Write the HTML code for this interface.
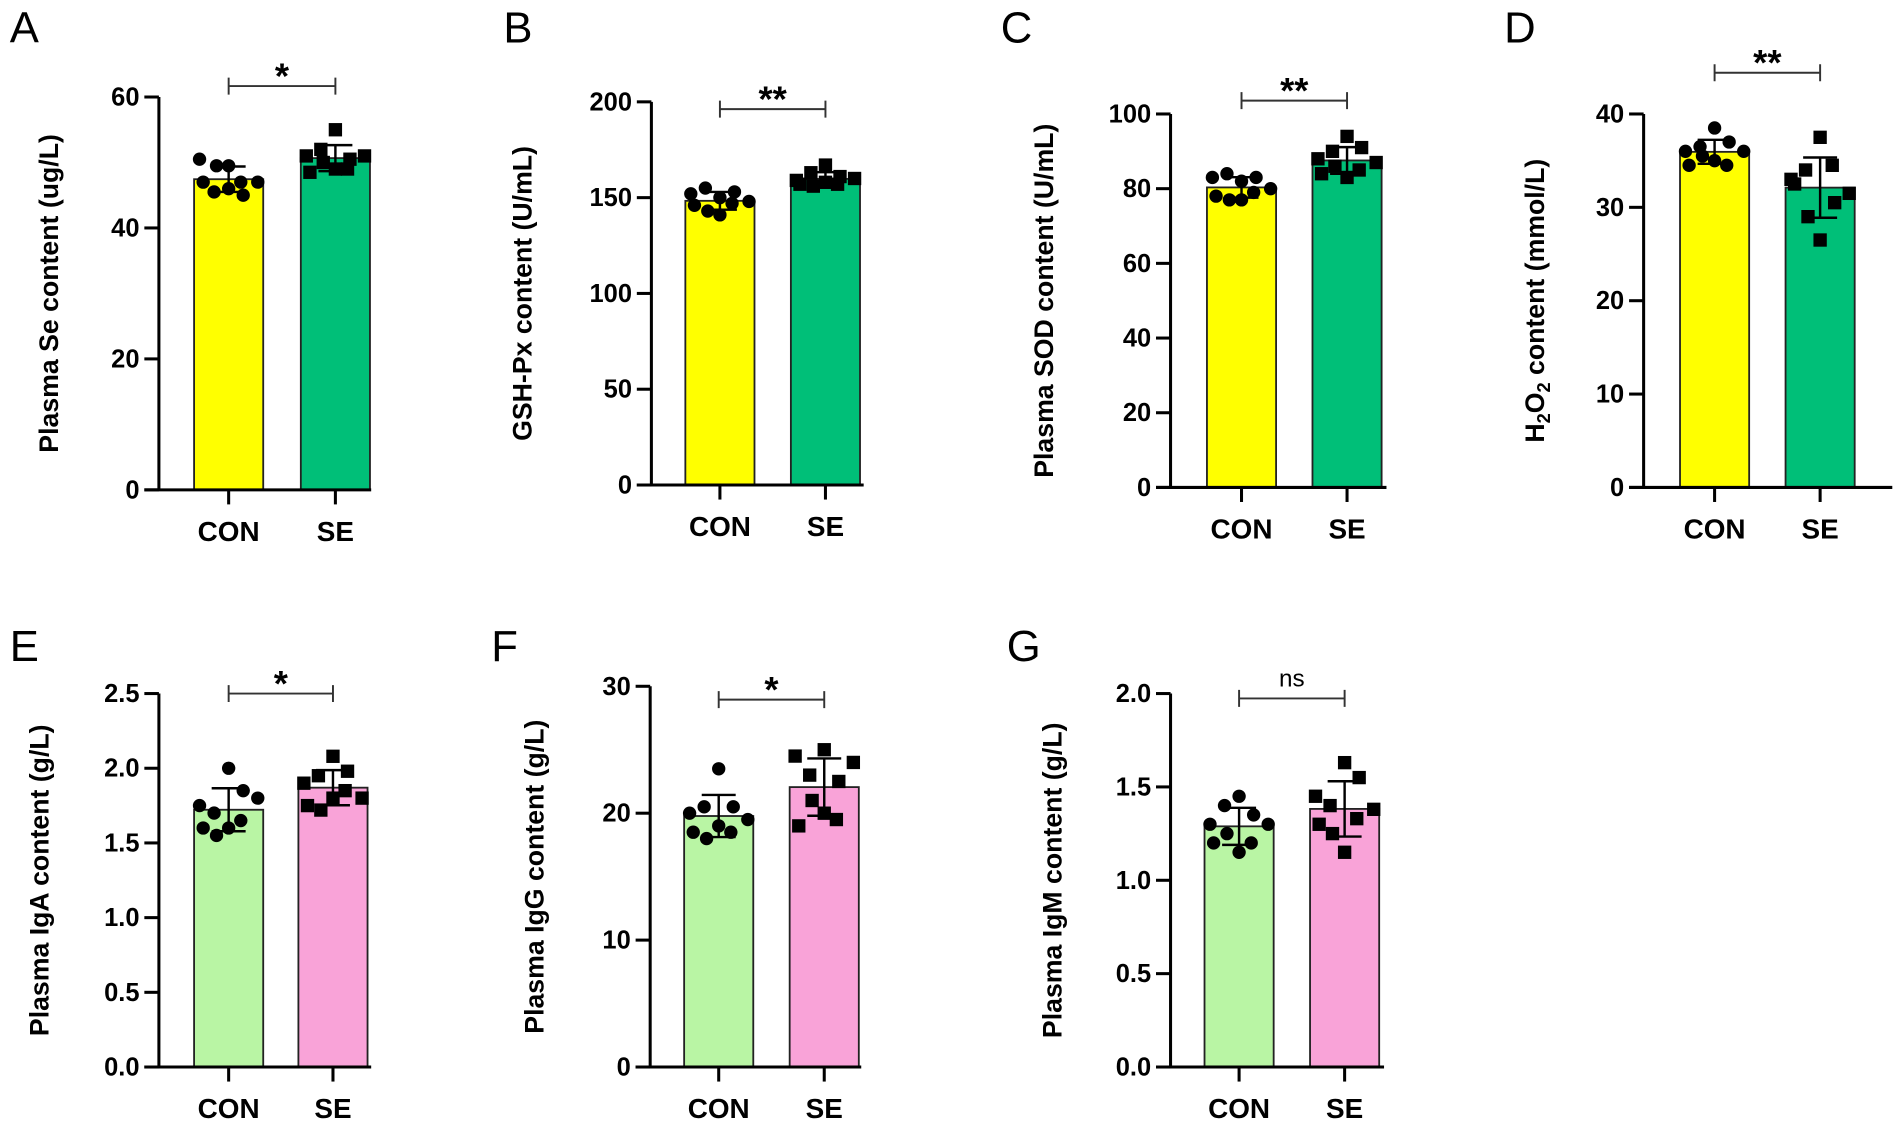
<!DOCTYPE html>
<html><head><meta charset="utf-8"><style>
html,body{margin:0;padding:0;background:#fff;}
svg{display:block;font-family:"Liberation Sans",Arial,sans-serif;}
</style></head><body>
<svg id="fig" width="1902" height="1124" viewBox="0 0 1568 927" preserveAspectRatio="none" xmlns="http://www.w3.org/2000/svg"></svg>
<script>
const categories = ["CON","SE"];
const panelLetters = ["A","B","C","D","E","F","G"];
const yTitles = ["Plasma Se content (ug/L)","GSH-Px content (U/mL)","Plasma SOD content (U/mL)","H2O2 content (mmol/L)","Plasma IgA content (g/L)","Plasma IgG content (g/L)","Plasma IgM content (g/L)"];
const sigLabels = ["*","**","**","**","*","*","ns"];
const yMaxes = [60,200,100,40,2.5,30,2.0];
const tickA = ["0","20","40","60"];
const tickB = ["0","50","100","150","200"];
const tickC = ["0","20","40","60","80","100"];
const tickD = ["0","10","20","30","40"];
const tickE = ["0.0","0.5","1.0","1.5","2.0","2.5"];
const tickF = ["0","10","20","30"];
const tickG = ["0.0","0.5","1.0","1.5","2.0"];
const conA = [50.5,47,45.5,49.5,46,49.5,45,47,47];
const seA = [51,48.5,52,50,49,55,50.5,49,51];
const conB = [152,146,155,143,150,141,153,147,148];
const seB = [159,157,163,156,167,158,161,157,160];
const conC = [83,78,84,77,82,77,83,79,80];
const seC = [88,84,90,86,94,83,91,85,87];
const conD = [36,34.5,36.5,35.5,38.5,35,37,34.5,36];
const seD = [33,32.5,34,29,37.5,26.5,30.5,34.5,31.5];
const conE = [1.75,1.6,1.7,1.55,2.0,1.6,1.85,1.65,1.8];
const seE = [1.9,1.75,1.95,1.72,2.08,1.8,1.98,1.85,1.8];
const conF = [20,18.5,20.5,18,23.5,19,20.5,18.5,19.5];
const seF = [24.5,19,23,21,25,20,22.5,19.5,24];
const conG = [1.3,1.2,1.4,1.25,1.45,1.15,1.35,1.2,1.3];
const seG = [1.45,1.3,1.4,1.25,1.63,1.15,1.55,1.33,1.38];

const ticksAll=[tickA,tickB,tickC,tickD,tickE,tickF,tickG];
const conAll=[conA,conB,conC,conD,conE,conF,conG];
const seAll=[seA,seB,seC,seD,seE,seF,seG];
const layout=[
 [131,80,404,160,248,306,71,8,35,48],
 [537,84,400,565,652,712,90,415,35,438],
 [965,94,402,995,1082,1143,83,825,35,868],
 [1355,94,402,1385,1472,1560,60,1240,35,1273],
 [131,572,880,160,246,306,572,8,545,40],
 [536,566,880,564,651,710,577,405,545,448],
 [965,572,880,993,1080,1141,576,830,545,875]
];
const rowColors=[["#ffff00","#00bf78"],["#b9f5a4","#f9a3d8"]];
const NS="http://www.w3.org/2000/svg";
const svg=document.getElementById('fig');
function mk(tag,attrs,parent){const e=document.createElementNS(NS,tag);for(const k in attrs)e.setAttribute(k,attrs[k]);(parent||svg).appendChild(e);return e;}
function mean(a){return a.reduce((s,v)=>s+v,0)/a.length;}
function sd(a){const m=mean(a);return Math.sqrt(a.reduce((s,v)=>s+(v-m)*(v-m),0)/(a.length-1));}
const jitter=[-24,-21,-12,-10,0,0,12,10,24];
for(let p=0;p<7;p++){
  const [ax,top,zero,b1,b2,aend,bry,lx,ly,tx]=layout[p];
  const g=mk('g',{});
  
  
  const yMax=yMaxes[p];
  const y=v=>zero-(v/yMax)*(zero-top);
  const bw=57;
  const cols=rowColors[p<4?0:1];
  const letter=mk('text',{x:lx,y:ly,'font-size':36,fill:'#000'},g);letter.textContent=panelLetters[p];
  
  [conAll[p],seAll[p]].forEach((vals,i)=>{
    const bl=i?b2:b1, cx=bl+bw/2, m=mean(vals), s=sd(vals);
    const bar=mk('rect',{x:bl,y:y(m),width:bw,height:zero-y(m),fill:cols[i],stroke:'#222','stroke-width':1.5},g);
    
    
    vals.forEach((v,k)=>{
      const px=cx+jitter[k];
      let pt;
      if(i===0) pt=mk('circle',{cx:px,cy:y(v),r:5.5,fill:'#000'},g);
      else pt=mk('rect',{x:px-5.5,y:y(v)-5.5,width:11,height:11,fill:'#000'},g);
      
      
    });
    const eb=mk('path',{d:`M${cx},${y(m+s)}V${y(m-s)}M${cx-14},${y(m+s)}H${cx+14}M${cx-14},${y(m-s)}H${cx+14}`,stroke:'#000','stroke-width':2,fill:'none'},g);
    
    mk('line',{x1:cx,x2:cx,y1:zero,y2:zero+12,stroke:'#000','stroke-width':2.5},g);
    const xl=mk('text',{x:cx,y:zero+42,'font-size':23,'font-weight':'bold','text-anchor':'middle'},g);xl.textContent=categories[i];
    
  });
  const axes=mk('path',{d:`M${ax},${top}V${zero}M${ax-12},${zero}H${aend}`,stroke:'#000','stroke-width':2.5,fill:'none'},g);
  
  const tl=ticksAll[p];
  tl.forEach(t=>{
    const ty=y(parseFloat(t));
    mk('line',{x1:ax-12,x2:ax,y1:ty,y2:ty,stroke:'#000','stroke-width':2.5},g);
    const tt=mk('text',{x:ax-16,y:ty+7,'font-size':21,'font-weight':'bold','text-anchor':'end'},g);tt.textContent=t;
    
  });
  const cy=(top+zero)/2;
  const yt=mk('text',{x:tx,y:cy,'font-size':22,'font-weight':'bold','text-anchor':'middle',transform:`rotate(-90 ${tx} ${cy})`},g);
  
  if(p===3){yt.innerHTML='H<tspan font-size="15" dy="5">2</tspan><tspan dy="-5">O</tspan><tspan font-size="15" dy="5">2</tspan><tspan dy="-5"> content (mmol/L)</tspan>';}
  else yt.textContent=yTitles[p];
  const c1=b1+bw/2,c2=b2+bw/2;
  const br=mk('path',{d:`M${c1},${bry-7}V${bry+7}M${c1},${bry}H${c2}M${c2},${bry-7}V${bry+7}`,stroke:'#333','stroke-width':1.6,fill:'none'},g);
  
  const ns=sigLabels[p]==='ns';
  const sg=mk('text',{x:(c1+c2)/2,y:ns?bry-10:bry+2,'font-size':ns?20:30,'font-weight':ns?'normal':'bold','text-anchor':'middle'},g);
  sg.textContent=sigLabels[p];
  
}
</script>
</body></html>
